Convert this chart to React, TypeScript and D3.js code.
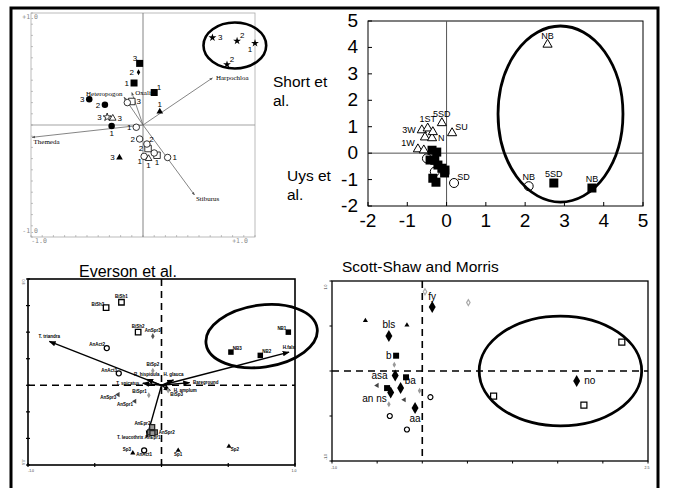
import React from "react";
import * as d3 from "d3";

// ---- top-left: CANOCO biplot (sites 1-3, species arrows)
const p1Points = [
  { x: 0.62, y: 0.78, g: "star", lab: "3", at: "r" },
  { x: 0.84, y: 0.75, g: "star", lab: "2", at: "tr" },
  { x: 1.0, y: 0.73, g: "star", lab: "1", at: "bl" },
  { x: 0.75, y: 0.54, g: "star", lab: "2", at: "tr" },
  { x: -0.03, y: 0.55, g: "fsq", lab: "3", at: "tl" },
  { x: -0.08, y: 0.375, g: "fsq", lab: "1", at: "l" },
  { x: 0.1, y: 0.29, g: "fsq", lab: "1", at: "tr" },
  { x: -0.04, y: 0.47, g: "fdia", lab: "2", at: "l" },
  { x: -0.48, y: 0.23, g: "fci", lab: "3", at: "l" },
  { x: -0.34, y: 0.18, g: "fci", lab: "2", at: "l" },
  { x: -0.28, y: -0.01, g: "fci", lab: "1", at: "b" },
  { x: -0.1, y: 0.21, g: "osq", lab: "3", at: "r" },
  { x: 0.045, y: -0.21, g: "osq", lab: "2", at: "l" },
  { x: 0.125, y: -0.27, g: "osq", lab: "1", at: "b" },
  { x: 0.15, y: 0.12, g: "ftri", lab: "1", at: "t" },
  { x: -0.21, y: -0.29, g: "ftri", lab: "3", at: "l" },
  { x: -0.06, y: -0.02, g: "oci", lab: "1", at: "l" },
  { x: -0.03, y: -0.125, g: "oci", lab: "2", at: "l" },
  { x: 0.1, y: -0.25, g: "oci" },
  { x: 0.01, y: -0.28, g: "oci", lab: "1", at: "bl" },
  { x: 0.22, y: -0.29, g: "oci", lab: "1", at: "r" },
  { x: 0.035, y: -0.17, g: "oci", lab: "2", at: "tr" },
  { x: -0.27, y: 0.06, g: "otri", lab: "3", at: "r" },
  { x: 0.05, y: -0.3, g: "otri", lab: "1", at: "b" },
  { x: -0.14, y: 0.2, g: "oci" },
  { x: -0.32, y: 0.07, g: "ostar", lab: "3", at: "l" },
];
const p1Vectors = [
  { x: 0.62, y: 0.42, lab: "Harpochloa", at: "r" },
  { x: -0.99, y: -0.11, lab: "Themeda", at: "br" },
  { x: 0.46, y: -0.625, lab: "Stiburus", at: "br" },
  { x: -0.17, y: 0.25, lab: "Heteropogon", at: "tl" },
  { x: -0.1, y: 0.29, lab: "Oxalis", at: "r" },
];
const p1Ring = { x: 0.82, y: 0.71, rx: 0.28, ry: 0.205 };
const p1Ends = ["-1.0", "+1.0"];

// ---- top-right: Short et al. / Uys et al.
const p2Ticks = [-2, -1, 0, 1, 2, 3, 4, 5];
const p2Points = [
  { x: 2.57, y: 4.11, g: "otri", lab: "NB", at: "t" },
  { x: 0.14, y: 0.76, g: "otri", lab: "SU", at: "tr" },
  { x: -0.12, y: 1.14, g: "otri", lab: "5SD", at: "t" },
  { x: -0.73, y: 0.15, g: "otri", lab: "1W", at: "tl" },
  { x: -0.58, y: 0.11, g: "otri" },
  { x: -0.63, y: 0.87, g: "otri", lab: "3W", at: "l" },
  { x: -0.48, y: 0.94, g: "otri", lab: "1ST", at: "t" },
  { x: -0.55, y: 0.6, g: "otri" },
  { x: -0.37, y: 0.57, g: "otri", lab: "N", at: "r" },
  { x: -0.35, y: 0.8, g: "otri" },
  { x: 2.09, y: -1.25, g: "oci", lab: "NB", at: "t" },
  { x: 0.19, y: -1.13, g: "oci", lab: "SD", at: "tr" },
  { x: -0.5, y: -0.2, g: "oci" },
  { x: -0.3, y: -0.7, g: "oci" },
  { x: 2.73, y: -1.13, g: "fsq", lab: "5SD", at: "t" },
  { x: 3.7, y: -1.32, g: "fsq", lab: "NB", at: "t" },
  { x: -0.37, y: 0.11, g: "fsq" },
  { x: -0.3, y: -0.27, g: "fsq" },
  { x: -0.22, y: -0.45, g: "fsq" },
  { x: -0.12, y: -0.57, g: "fsq" },
  { x: -0.04, y: -0.64, g: "fsq" },
  { x: -0.27, y: -1.1, g: "fsq" },
  { x: -0.35, y: -0.95, g: "fsq" },
  { x: -0.42, y: -0.26, g: "fsq" },
  { x: -0.25, y: 0.04, g: "fsq" },
  { x: -0.05, y: -0.75, g: "fsq" },
];
const p2Ring = { x: 2.9, y: 1.48, rx: 1.59, ry: 3.33 };

// ---- bottom-left: Everson et al.
const p3Points = [
  { x: -0.415, y: 0.585, g: "osq", lab: "BiSh3", at: "tl" },
  { x: -0.3, y: 0.625, g: "osq", lab: "BiSh1", at: "t" },
  { x: -0.175, y: 0.4, g: "osq", lab: "BiSh2", at: "t" },
  { x: -0.065, y: 0.37, g: "kdia", lab: "AnSpr3", at: "t" },
  { x: -0.065, y: 0.11, g: "gdia", lab: "BiSp2", at: "t" },
  { x: -0.095, y: -0.075, g: "gdia", lab: "BiSpr1", at: "tl" },
  { x: 0.05, y: -0.04, g: "gdia", lab: "BiSp3", at: "br" },
  { x: -0.41, y: 0.28, g: "oci", lab: "AnAct2", at: "tl" },
  { x: -0.32, y: 0.09, g: "oci", lab: "AnAct3", at: "tl" },
  { x: -0.13, y: -0.49, g: "oci", lab: "AnAct1", at: "b" },
  { x: -0.325, y: -0.07, g: "ltri", lab: "AnSpr3", at: "bl" },
  { x: -0.2, y: -0.12, g: "ltri", lab: "AnSpr1", at: "bl" },
  { x: -0.07, y: -0.315, g: "gsq", lab: "AnEpr2", at: "tl" },
  { x: -0.085, y: -0.355, g: "gsq" },
  { x: -0.05, y: -0.355, g: "gsq", lab: "AnSpr2", at: "r" },
  { x: -0.068, y: -0.36, g: "gsq", lab: "AnEpr1", at: "b" },
  { x: -0.215, y: -0.51, g: "ftri", lab: "Sp3", at: "tl" },
  { x: 0.125, y: -0.49, g: "ftri", lab: "Sp1", at: "b" },
  { x: 0.505, y: -0.46, g: "ftri", lab: "Sp2", at: "br" },
  { x: 0.95, y: 0.4, g: "fsq", lab: "NB1", at: "tl" },
  { x: 0.74, y: 0.225, g: "fsq", lab: "NB2", at: "tr" },
  { x: 0.52, y: 0.25, g: "fsq", lab: "NB3", at: "tr" },
];
const p3Vectors = [
  { x: -0.84, y: 0.33, lab: "T. triandra", at: "t" },
  { x: 0.955, y: 0.25, lab: "H.falx", at: "t" },
  { x: 0.21, y: 0.02, lab: "Bareground", at: "r" },
  { x: -0.14, y: 0.015, lab: "T. spicatus", at: "l" },
  { x: -0.11, y: 0.045, lab: "R. hispidula", at: "t" },
  { x: 0.09, y: 0.04, lab: "H. glauca", at: "t" },
  { x: 0.065, y: -0.04, lab: "H. amplum", at: "r" },
  { x: -0.11, y: -0.39, lab: "T. leucothrix", at: "l" },
];
const p3Ring = { x: 0.75, y: 0.37, rx: 0.42, ry: 0.233 };
const p3XEnds = ["-1.0", "1.0"];
const p3YEnds = ["-0.6", "0.8"];

// ---- bottom-right: Scott-Shaw and Morris
const p4Points = [
  { x: 0.03, y: 0.88, g: "odia" },
  { x: 0.51, y: 0.76, g: "odia" },
  { x: 0.11, y: 0.71, g: "fdia", lab: "fy", at: "t" },
  { x: -0.37, y: 0.39, g: "fdia", lab: "bls", at: "t" },
  { x: -0.3, y: -0.05, g: "fdia", lab: "asa", at: "l" },
  { x: -0.35, y: -0.24, g: "fdia" },
  { x: -0.24, y: -0.19, g: "fdia", lab: "ba", at: "tr" },
  { x: -0.08, y: -0.41, g: "fdia", lab: "aa", at: "b" },
  { x: 1.71, y: -0.11, g: "fdia", lab: "no", at: "r" },
  { x: -0.63, y: 0.56, g: "ftri" },
  { x: -0.17, y: 0.51, g: "ftri" },
  { x: -0.29, y: 0.17, g: "fsq", lab: "b", at: "l" },
  { x: -0.18, y: -0.07, g: "fsq" },
  { x: -0.39, y: -0.19, g: "fsq" },
  { x: -0.31, y: 0.07, g: "gdia" },
  { x: -0.03, y: -0.22, g: "gdia" },
  { x: -0.37, y: -0.37, g: "gdia", lab: "an ns", at: "tl" },
  { x: -0.5, y: -0.16, g: "ltri" },
  { x: -0.2, y: -0.32, g: "ltri" },
  { x: 0.09, y: -0.29, g: "oci" },
  { x: -0.36, y: -0.5, g: "oci" },
  { x: -0.17, y: -0.65, g: "oci" },
  { x: 0.79, y: -0.28, g: "osq" },
  { x: 1.79, y: -0.38, g: "osq" },
  { x: 2.21, y: 0.32, g: "osq" },
];
const p4Ring = { x: 1.53, y: 0.0, rx: 0.9, ry: 0.61 };
const p4XEnds = ["-1.0", "2.5"];
const p4YEnds = ["-1.0", "1.0"];

const SYM: any = {
  fsq: d3.symbolSquare, osq: d3.symbolSquare, gsq: d3.symbolSquare,
  fci: d3.symbolCircle, oci: d3.symbolCircle,
  ftri: d3.symbolTriangle, otri: d3.symbolTriangle, ltri: d3.symbolTriangle,
  fdia: d3.symbolDiamond, gdia: d3.symbolDiamond, odia: d3.symbolDiamond, kdia: d3.symbolDiamond,
  star: d3.symbolStar, ostar: d3.symbolStar,
};
const AREA: any = {
  fsq: 1, osq: 1, gsq: 1, fci: 0.785, oci: 0.785, ftri: 0.45, otri: 0.45, ltri: 0.45,
  fdia: 0.29, gdia: 0.29, odia: 0.29, kdia: 0.29, star: 0.3, ostar: 0.3,
};
const STYLE: any = {
  fsq: { fill: "#000" }, osq: { fill: "#fff", stroke: "#000" }, gsq: { fill: "#999", stroke: "#222" },
  fci: { fill: "#000" }, oci: { fill: "#fff", stroke: "#000" },
  ftri: { fill: "#000" }, otri: { fill: "#fff", stroke: "#000" }, ltri: { fill: "#444" },
  fdia: { fill: "#000" }, gdia: { fill: "#999" }, odia: { fill: "#fff", stroke: "#aaa" }, kdia: { fill: "#555" },
  star: { fill: "#000" }, ostar: { fill: "#fff", stroke: "#000" },
};

function place(at: string, r: number, fs: number): [number, number, string] {
  const a = fs * 0.35;
  switch (at) {
    case "r": return [r + 1.5, a, "start"];
    case "l": return [-r - 1.5, a, "end"];
    case "t": return [0, -r - 1.5, "middle"];
    case "b": return [0, r + fs * 0.8, "middle"];
    case "tl": return [-r * 0.7, -r * 0.7, "end"];
    case "tr": return [r * 0.7, -r * 0.7, "start"];
    case "bl": return [-r * 0.7, r * 0.7 + fs * 0.7, "end"];
    default: return [r * 0.7, r * 0.7 + fs * 0.7, "start"];
  }
}

function Points({ pts, x, y, size, sw, fs, font, weight = "normal" }: any) {
  return (
    <g>
      {pts.map((p: any, i: number) => {
        const px = x(p.x), py = y(p.y);
        const s = size[p.g] ?? size.def;
        const path = d3.symbol().type(SYM[p.g]).size(s * s * AREA[p.g])() as string;
        const st = STYLE[p.g];
        const rot = p.g === "ltri" ? -90 : 0;
        const [dx, dy, anchor] = place(p.at || "r", s / 2, fs);
        return (
          <g key={i}>
            <path d={path} transform={`translate(${px},${py}) rotate(${rot})`}
              fill={st.fill} stroke={st.stroke || "none"} strokeWidth={sw} />
            {p.lab && (
              <text x={px + dx} y={py + dy} textAnchor={anchor} fontSize={fs}
                fontFamily={font} fontWeight={weight} fill="#000">{p.lab}</text>
            )}
          </g>
        );
      })}
    </g>
  );
}

function Vectors({ vs, x, y, color, sw, marker, fs, font, weight = "normal" }: any) {
  return (
    <g>
      {vs.map((v: any, i: number) => {
        const px = x(v.x), py = y(v.y);
        const [dx, dy, anchor] = place(v.at, 2, fs);
        return (
          <g key={i}>
            <line x1={x(0)} y1={y(0)} x2={px} y2={py} stroke={color} strokeWidth={sw} markerEnd={`url(#${marker})`} />
            <text x={px + dx} y={py + dy} textAnchor={anchor} fontSize={fs} fontFamily={font}
              fontWeight={weight} fill="#000">{v.lab}</text>
          </g>
        );
      })}
    </g>
  );
}

function Ring({ r, x, y, sw, rot = 0 }: any) {
  const cx = x(r.x), cy = y(r.y);
  return (
    <ellipse cx={cx} cy={cy} rx={Math.abs(x(r.x + r.rx) - cx)} ry={Math.abs(y(r.y + r.ry) - cy)}
      transform={`rotate(${rot},${cx},${cy})`} fill="none" stroke="#000" strokeWidth={sw} />
  );
}

export default function App() {
  const arial = "Liberation Sans, Arial, sans-serif";
  const narrow = "Liberation Sans Narrow, Arial Narrow, Liberation Sans, sans-serif";

  const x1 = d3.scaleLinear().domain([-1, 1]).range([31, 255]);
  const y1 = d3.scaleLinear().domain([-1, 1]).range([237, 13]);
  const x2 = d3.scaleLinear().domain([-2, 5]).range([368, 643]);
  const y2 = d3.scaleLinear().domain([-2, 5]).range([206, 21]);
  const x3 = d3.scaleLinear().domain([-1, 1]).range([28, 295]);
  const y3 = d3.scaleLinear().domain([-0.6, 0.8]).range([465, 279]);
  const x4 = d3.scaleLinear().domain([-1, 2.5]).range([332, 648]);
  const y4 = d3.scaleLinear().domain([-1, 1]).range([461, 281]);

  const minor1 = d3.range(-10, 11).map((d) => d / 10);
  const ticks3y = d3.range(-3, 5).map((d) => d / 5);
  const ticks3x = d3.range(-2, 3).map((d) => d / 2);
  const ticks4x = d3.range(-2, 6).map((d) => d / 2);
  const ticks4y = d3.range(-2, 3).map((d) => d / 2);

  return (
    <svg width={673} height={488} style={{ position: "absolute", left: 0, top: 0, background: "#fff" }}>
      <defs>
        <marker id="ag" viewBox="0 0 10 10" refX="9" refY="5" markerWidth="4" markerHeight="4" orient="auto">
          <path d="M0,1 L10,5 L0,9 z" fill="#555" />
        </marker>
        <marker id="ak" viewBox="0 0 10 10" refX="9" refY="5" markerWidth="5" markerHeight="5" orient="auto">
          <path d="M0,1 L10,5 L0,9 z" fill="#000" />
        </marker>
      </defs>
      <rect x={0} y={0} width={673} height={488} fill="#fff" />

      {/* panel 1 */}
      <g>
        <rect x={x1(-1)} y={y1(1)} width={x1(1) - x1(-1)} height={y1(-1) - y1(1)} fill="none" stroke="#aaa" strokeWidth={0.8} />
        {minor1.map((t) => (
          <g key={t}>
            <line x1={x1(-1)} x2={x1(-1) + 2} y1={y1(t)} y2={y1(t)} stroke="#999" strokeWidth={0.6} />
            <line x1={x1(t)} x2={x1(t)} y1={y1(-1)} y2={y1(-1) - 2} stroke="#999" strokeWidth={0.6} />
          </g>
        ))}
        <line x1={x1(0)} x2={x1(0)} y1={y1(1)} y2={y1(-1)} stroke="#777" strokeWidth={0.9} />
        <line x1={x1(-1)} x2={x1(1)} y1={y1(0)} y2={y1(0)} stroke="#999" strokeWidth={0.9} />
        <text x={x1(-1) + 7} y={y1(1) + 6} textAnchor="end" fontSize={6.5} fontFamily="DejaVu Sans Mono, monospace" fill="#888">{p1Ends[1]}</text>
        <text x={x1(-1) + 7} y={y1(-1) - 4} textAnchor="end" fontSize={6.5} fontFamily="DejaVu Sans Mono, monospace" fill="#888">{p1Ends[0]}</text>
        <text x={x1(-1) + 8} y={y1(-1) + 6} textAnchor="middle" fontSize={6.5} fontFamily="DejaVu Sans Mono, monospace" fill="#888">{p1Ends[0]}</text>
        <text x={x1(1) - 15} y={y1(-1) + 6} textAnchor="middle" fontSize={6.5} fontFamily="DejaVu Sans Mono, monospace" fill="#888">{p1Ends[1]}</text>
        <Vectors vs={p1Vectors} x={x1} y={y1} color="#666" sw={0.8} marker="ag" fs={7} font="Liberation Serif, serif" />
        <Points pts={p1Points} x={x1} y={y1} size={{ def: 6.5, star: 8, ostar: 8, fdia: 6, fsq: 7 }} sw={0.8} fs={8} font={arial} />
        <Ring r={p1Ring} x={x1} y={y1} sw={2.6} />
      </g>

      {/* side captions */}
      <g fontFamily={arial} fontSize={15.5} fill="#000">
        <text x={273} y={87}>Short et</text>
        <text x={273} y={106}>al.</text>
        <text x={287} y={181}>Uys et</text>
        <text x={287} y={200}>al.</text>
      </g>

      {/* panel 2 */}
      <g>
        <rect x={x2(-2)} y={y2(5)} width={x2(5) - x2(-2)} height={y2(-2) - y2(5)} fill="none" stroke="#000" strokeWidth={1} />
        <line x1={x2(0)} x2={x2(0)} y1={y2(5)} y2={y2(-2)} stroke="#555" strokeWidth={1} />
        <line x1={x2(-2)} x2={x2(5)} y1={y2(0)} y2={y2(0)} stroke="#555" strokeWidth={1} />
        {p2Ticks.map((t) => (
          <g key={t} fontFamily={arial} fontSize={19} fill="#000">
            <line x1={x2(t)} x2={x2(t)} y1={y2(-2)} y2={y2(-2) - 4} stroke="#000" />
            <line x1={x2(-2)} x2={x2(-2) + 4} y1={y2(t)} y2={y2(t)} stroke="#000" />
            <text x={x2(t)} y={y2(-2) + 21} textAnchor="middle">{t}</text>
            <text x={x2(-2) - 10} y={y2(t) + 6} textAnchor="end">{t}</text>
          </g>
        ))}
        <Points pts={p2Points} x={x2} y={y2} size={{ def: 9, fsq: 9 }} sw={1} fs={9} font={narrow} />
        <Ring r={p2Ring} x={x2} y={y2} sw={2.8} />
      </g>

      {/* panel 3 */}
      <g>
        <text x={79} y={277} fontFamily={arial} fontSize={16} fill="#000">Everson et al.</text>
        <rect x={x3(-1)} y={y3(0.8)} width={x3(1) - x3(-1)} height={y3(-0.6) - y3(0.8)} fill="none" stroke="#000" strokeWidth={1.6} />
        {ticks3y.map((t) => (
          <line key={t} x1={x3(-1) - 2} x2={x3(-1) + 2} y1={y3(t)} y2={y3(t)} stroke="#000" strokeWidth={1.2} />
        ))}
        {ticks3x.map((t) => (
          <line key={t} x1={x3(t)} x2={x3(t)} y1={y3(-0.6) - 2} y2={y3(-0.6) + 2} stroke="#000" strokeWidth={1.2} />
        ))}
        <line x1={x3(0)} x2={x3(0)} y1={y3(0.8)} y2={y3(-0.6)} stroke="#000" strokeWidth={1.6} strokeDasharray="7 5" />
        <line x1={x3(-1)} x2={x3(1)} y1={y3(0)} y2={y3(0)} stroke="#000" strokeWidth={1.6} strokeDasharray="7 5" />
        <g fontFamily={arial} fontSize={3.5} fill="#333">
          <text x={x3(-1) + 3} y={y3(-0.6) + 7} textAnchor="middle">{p3XEnds[0]}</text>
          <text x={x3(1) - 1} y={y3(-0.6) + 7} textAnchor="middle">{p3XEnds[1]}</text>
          <text transform={`translate(${x3(-1) - 6},${y3(0.8) + 3}) rotate(90)`} textAnchor="middle">{p3YEnds[1]}</text>
          <text transform={`translate(${x3(-1) - 6},${y3(-0.6) - 3}) rotate(90)`} textAnchor="middle">{p3YEnds[0]}</text>
        </g>
        <Vectors vs={p3Vectors} x={x3} y={y3} color="#000" sw={1.4} marker="ak" fs={4.5} font={arial} weight="bold" />
        <Points pts={p3Points} x={x3} y={y3} size={{ def: 5, fsq: 5.5, osq: 5.5, gdia: 6, kdia: 6 }} sw={1.3} fs={4.5} font={arial} weight="bold" />
        <Ring r={p3Ring} x={x3} y={y3} sw={2.8} rot={-8} />
      </g>

      {/* panel 4 */}
      <g>
        <text x={342} y={272} fontFamily={arial} fontSize={15.5} fill="#000">Scott-Shaw and Morris</text>
        <rect x={x4(-1)} y={y4(1)} width={x4(2.5) - x4(-1)} height={y4(-1) - y4(1)} fill="none" stroke="#000" strokeWidth={1.3} />
        {ticks4x.map((t) => (
          <line key={t} x1={x4(t)} x2={x4(t)} y1={y4(-1)} y2={y4(-1) + 2.5} stroke="#000" strokeWidth={1} />
        ))}
        {ticks4y.map((t) => (
          <line key={t} x1={x4(-1) - 2.5} x2={x4(-1)} y1={y4(t)} y2={y4(t)} stroke="#000" strokeWidth={1} />
        ))}
        <line x1={x4(0)} x2={x4(0)} y1={y4(1)} y2={y4(-1)} stroke="#000" strokeWidth={1.6} strokeDasharray="7 5" />
        <line x1={x4(-1)} x2={x4(2.5)} y1={y4(0)} y2={y4(0)} stroke="#000" strokeWidth={1.6} strokeDasharray="7 5" />
        <g fontFamily={arial} fontSize={3.5} fill="#333">
          <text x={x4(-1) + 2} y={y4(-1) + 8} textAnchor="middle">{p4XEnds[0]}</text>
          <text x={x4(2.5) - 1} y={y4(-1) + 8} textAnchor="middle">{p4XEnds[1]}</text>
          <text transform={`translate(${x4(-1) - 5},${y4(1) + 6}) rotate(-90)`} textAnchor="middle">{p4YEnds[1]}</text>
          <text transform={`translate(${x4(-1) - 5},${y4(-1) - 4}) rotate(-90)`} textAnchor="middle">{p4YEnds[0]}</text>
        </g>
        <Points pts={p4Points} x={x4} y={y4} size={{ def: 5, fdia: 12, fsq: 6, osq: 6, gdia: 6, odia: 6 }} sw={1.2} fs={10} font={arial} />
        <Ring r={p4Ring} x={x4} y={y4} sw={2.8} />
      </g>

      {/* outer frame */}
      <rect x={11} y={8} width={647} height={486} fill="none" stroke="#000" strokeWidth={3} />
    </svg>
  );
}
